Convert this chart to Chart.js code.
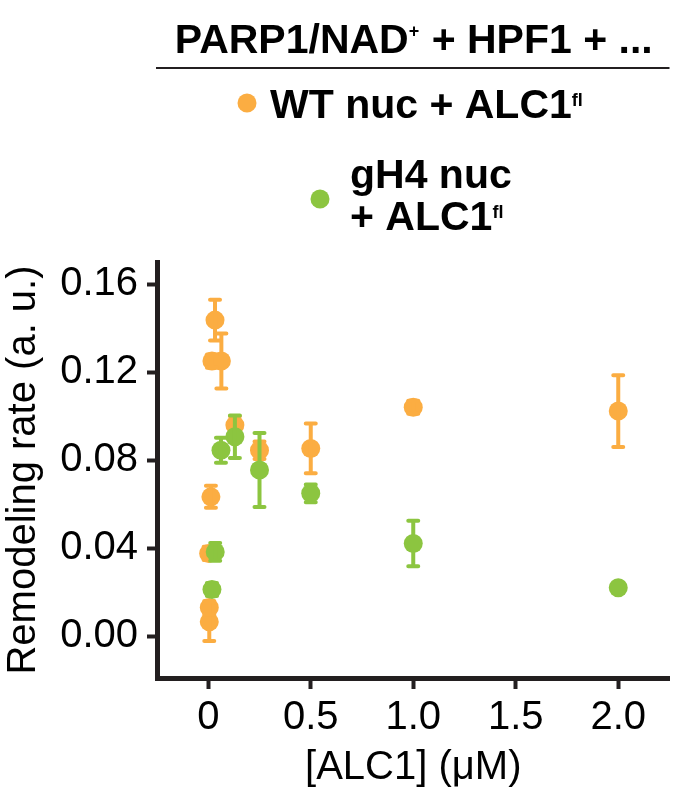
<!DOCTYPE html>
<html>
<head>
<meta charset="utf-8">
<title>Remodeling rate vs ALC1</title>
<script src="https://cdn.jsdelivr.net/npm/chart.js@4.4.1/dist/chart.umd.min.js"></script>
<style>
    html, body { margin: 0; padding: 0; background: #ffffff; }
    #wrap { width: 679px; height: 796px; }
</style>
</head>
<body>
<div id="wrap"><canvas id="remodelingChart" width="679" height="796"></canvas></div>
<script>
// Values
const doseWT = [0.005, 0.005, 0.002, 0.013, 0.018, 0.033, 0.064, 0.13, 0.25, 0.5, 1.0, 2.0];
const rateWT = [0.0065, 0.013, 0.0376, 0.0633, 0.125, 0.1436, 0.125, 0.0959, 0.0845, 0.0853, 0.104, 0.1023];
const errWT  = [0.0087, 0.003, 0.003, 0.005, 0.003, 0.0093, 0.0125, 0.004, 0.004, 0.0113, 0.003, 0.0163];

const doseGH4 = [0.018, 0.034, 0.062, 0.13, 0.25, 0.5, 1.0, 2.0];
const rateGH4 = [0.0212, 0.0383, 0.0845, 0.0906, 0.0755, 0.0649, 0.0421, 0.022];
const errGH4  = [0.003, 0.004, 0.0057, 0.0097, 0.0168, 0.004, 0.0103, 0];

const xTickValues = [0, 0.5, 1.0, 1.5, 2.0];
const xTickLabels = ['0', '0.5', '1.0', '1.5', '2.0'];
const yTickValues = [0, 0.04, 0.08, 0.12, 0.16];
const yTickLabels = ['0.00', '0.04', '0.08', '0.12', '0.16'];

const orange = '#fbad42';
const green = '#8cc540';
const ink = '#231f20';
const fontFamily = '"Liberation Sans", Arial, Helvetica, sans-serif';

function toPoints(xs, ys) {
    return xs.map((x, i) => ({ x: x, y: ys[i] }));
}

// Draws vertical error bars for each dataset, right after that dataset's points
const errorBarPlugin = {
    id: 'errorBars',
    afterDatasetDraw(chart, args) {
        const ds = chart.data.datasets[args.index];
        if (!ds.errors) return;
        const ctx = chart.ctx;
        const xScale = chart.scales.x;
        const yScale = chart.scales.y;
        ctx.save();
        ctx.strokeStyle = ds.backgroundColor;
        ctx.lineWidth = 4;
        ctx.lineCap = 'round';
        ds.data.forEach((pt, i) => {
            const e = ds.errors[i];
            if (!e) return;
            const px = xScale.getPixelForValue(pt.x);
            const top = yScale.getPixelForValue(pt.y + e);
            const bottom = yScale.getPixelForValue(pt.y - e);
            ctx.beginPath();
            ctx.moveTo(px, top);
            ctx.lineTo(px, bottom);
            ctx.moveTo(px - 5, top);
            ctx.lineTo(px + 5, top);
            ctx.moveTo(px - 5, bottom);
            ctx.lineTo(px + 5, bottom);
            ctx.stroke();
        });
        ctx.restore();
    }
};

// Draws a line of text made of normal and superscript pieces
function drawRuns(ctx, runs, x, y, align) {
    const mainFont = 'bold 41px ' + fontFamily;
    const supFont = 'bold 18px ' + fontFamily;
    let total = 0;
    runs.forEach(r => {
        ctx.font = r.sup ? supFont : mainFont;
        total += ctx.measureText(r.text).width;
    });
    let cx = align === 'center' ? x - total / 2 : x;
    ctx.textAlign = 'left';
    ctx.textBaseline = 'alphabetic';
    runs.forEach(r => {
        ctx.font = r.sup ? supFont : mainFont;
        ctx.fillText(r.text, cx, r.sup ? y - r.sup : y);
        cx += ctx.measureText(r.text).width + (r.sup ? 1 : 0);
    });
}

// Title line, rule and the two-entry legend above the plot
const headerPlugin = {
    id: 'header',
    afterDraw(chart) {
        const ctx = chart.ctx;
        const area = chart.chartArea;
        const mid = (area.left + area.right) / 2;
        ctx.save();
        ctx.fillStyle = '#000000';
        drawRuns(ctx, [{ text: 'PARP1/NAD' }, { text: '+', sup: 16 }, { text: ' + HPF1 + ...' }], mid, 53, 'center');

        ctx.strokeStyle = ink;
        ctx.lineWidth = 2;
        ctx.beginPath();
        ctx.moveTo(area.left - 1, 68);
        ctx.lineTo(area.right, 68);
        ctx.stroke();

        const sets = chart.data.datasets;
        ctx.fillStyle = sets[0].backgroundColor;
        ctx.beginPath();
        ctx.arc(247, 103, 9.5, 0, Math.PI * 2);
        ctx.fill();
        ctx.fillStyle = '#000000';
        drawRuns(ctx, [{ text: 'WT nuc + ALC1' }, { text: 'fl', sup: 12 }], 270, 118, 'left');

        ctx.fillStyle = sets[1].backgroundColor;
        ctx.beginPath();
        ctx.arc(320, 199, 9.5, 0, Math.PI * 2);
        ctx.fill();
        ctx.fillStyle = '#000000';
        drawRuns(ctx, [{ text: 'gH4 nuc' }], 350, 188, 'left');
        drawRuns(ctx, [{ text: '+ ALC1' }, { text: 'fl', sup: 12 }], 350, 230, 'left');
        ctx.restore();
    }
};

const ctx = document.getElementById('remodelingChart').getContext('2d');
new Chart(ctx, {
    type: 'scatter',
    data: {
        datasets: [
            {
                label: 'WT nuc + ALC1fl',
                data: toPoints(doseWT, rateWT),
                errors: errWT,
                backgroundColor: orange,
                borderWidth: 0,
                pointRadius: 9.5,
                pointHoverRadius: 9.5,
                order: 2
            },
            {
                label: 'gH4 nuc + ALC1fl',
                data: toPoints(doseGH4, rateGH4),
                errors: errGH4,
                backgroundColor: green,
                borderWidth: 0,
                pointRadius: 9.5,
                pointHoverRadius: 9.5,
                order: 1
            }
        ]
    },
    options: {
        responsive: false,
        animation: false,
        clip: false,
        layout: { padding: { top: 262, right: 9, left: 0, bottom: 0 } },
        plugins: {
            legend: { display: false },
            tooltip: { enabled: false }
        },
        scales: {
            x: {
                type: 'linear',
                min: -0.25,
                max: 2.25,
                afterBuildTicks: scale => { scale.ticks = xTickValues.map(v => ({ value: v })); },
                afterFit: scale => { scale.height = 118; },
                ticks: {
                    color: '#000000',
                    font: { family: fontFamily, size: 40 },
                    padding: 5,
                    maxRotation: 0,
                    callback: (value, index) => xTickLabels[index]
                },
                grid: { drawOnChartArea: false, tickLength: 11, tickWidth: 4, tickColor: ink },
                border: { display: true, width: 5, color: ink },
                title: {
                    display: true,
                    text: '[ALC1] (μM)',
                    color: '#000000',
                    font: { family: fontFamily, size: 40 },
                    padding: { top: 0, bottom: 4 }
                }
            },
            y: {
                type: 'linear',
                min: -0.019,
                max: 0.17,
                afterBuildTicks: scale => { scale.ticks = yTickValues.map(v => ({ value: v })); },
                afterFit: scale => { scale.width = 157; },
                ticks: {
                    color: '#000000',
                    font: { family: fontFamily, size: 40 },
                    padding: 9,
                    callback: (value, index) => yTickLabels[index]
                },
                grid: { drawOnChartArea: false, tickLength: 10, tickWidth: 4, tickColor: ink },
                border: { display: true, width: 5, color: ink },
                title: {
                    display: true,
                    text: 'Remodeling rate (a. u.)',
                    color: '#000000',
                    font: { family: fontFamily, size: 40 },
                    padding: { top: 0, bottom: 0 }
                }
            }
        }
    },
    plugins: [errorBarPlugin, headerPlugin]
});
</script>
</body>
</html>
